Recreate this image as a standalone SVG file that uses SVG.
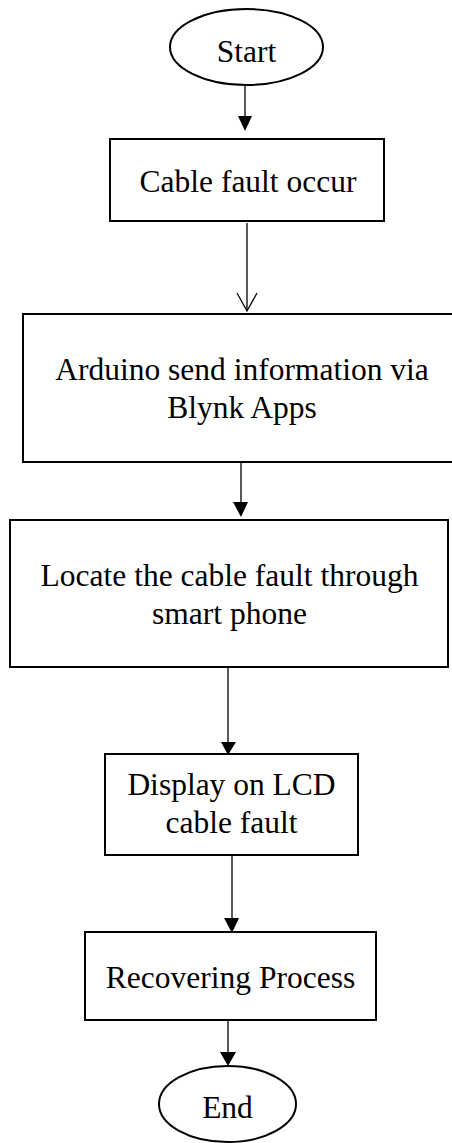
<svg xmlns="http://www.w3.org/2000/svg" width="452" height="1143" viewBox="0 0 452 1143">
<style>
.box{fill:#fff;stroke:#000;stroke-width:2}
.ell{fill:#fff;stroke:#000;stroke-width:2}
.t{font-family:"Liberation Serif","Times New Roman",serif;font-size:31.5px;fill:#000;text-anchor:middle}
.c{stroke:#000;stroke-width:1.3;fill:none}
.h{fill:#000;stroke:none}
</style>
<rect width="452" height="1143" fill="#fff"/>
<g id="connectors">
<line class="c" x1="245" y1="86" x2="245" y2="118"/>
<polygon class="h" points="238,116 252,116 245,131"/>
<line class="c" x1="247" y1="223" x2="247" y2="310"/>
<polyline class="c" points="237,293 247,311 257,293"/>
<line class="c" x1="241" y1="463" x2="241" y2="504"/>
<polygon class="h" points="233,502 248,502 241,517"/>
<line class="c" x1="228" y1="668" x2="228" y2="744"/>
<polygon class="h" points="221,742 236,742 228,755"/>
<line class="c" x1="232" y1="856" x2="232" y2="920"/>
<polygon class="h" points="224,918 239,918 232,933"/>
<line class="c" x1="228" y1="1021" x2="228" y2="1054"/>
<polygon class="h" points="220,1052 236,1052 228,1066"/>
</g>
<g id="start">
<ellipse class="ell" cx="246.5" cy="47" rx="76.5" ry="38"/>
<text class="t" x="246.5" y="62">Start</text>
</g>
<g id="cable-fault">
<rect class="box" x="110" y="139" width="274" height="82"/>
<text class="t" x="248" y="192">Cable fault occur</text>
</g>
<g id="arduino">
<rect class="box" x="23" y="314" width="440" height="148"/>
<text class="t" x="242" y="380">Arduino send information via</text>
<text class="t" x="242" y="418">Blynk Apps</text>
</g>
<g id="locate">
<rect class="box" x="10" y="520" width="438" height="147"/>
<text class="t" x="229.5" y="586">Locate the cable fault through</text>
<text class="t" x="229.5" y="624">smart phone</text>
</g>
<g id="display">
<rect class="box" x="105" y="754" width="253" height="101"/>
<text class="t" x="231.5" y="795">Display on LCD</text>
<text class="t" x="231.5" y="833">cable fault</text>
</g>
<g id="recovering">
<rect class="box" x="85" y="932" width="291" height="88"/>
<text class="t" x="230.5" y="988">Recovering Process</text>
</g>
<g id="end">
<ellipse class="ell" cx="227.5" cy="1104" rx="68.5" ry="38"/>
<text class="t" x="227.5" y="1118">End</text>
</g>
</svg>
